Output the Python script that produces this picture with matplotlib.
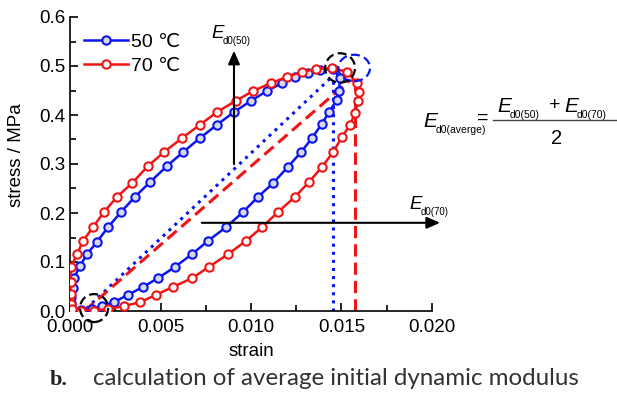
import matplotlib
matplotlib.use('Agg')
import matplotlib.pyplot as plt
from matplotlib.patches import Ellipse
from matplotlib.lines import Line2D
from matplotlib.ticker import MultipleLocator, FormatStrFormatter

# hysteresis loop, 50 C (strain, stress / MPa)
strain_50 = [0.0000, 0.00006, 0.00006, 0.00017, 0.00022, 0.00055, 0.00094, 0.00149,
             0.00210, 0.00282, 0.00359, 0.00442, 0.00536, 0.00624, 0.00718, 0.00812,
             0.00906, 0.01000, 0.01088, 0.01171, 0.01243, 0.01315, 0.01381, 0.01453,
             0.01492, 0.01486, 0.01475, 0.01431, 0.01392, 0.01337, 0.01276, 0.01204,
             0.01122, 0.01039, 0.00956, 0.00862, 0.00762, 0.00674, 0.00580, 0.00486,
             0.00403, 0.00320, 0.00243, 0.00177, 0.00120, 0.00060, 0.00010]
stress_50 = [0.002, 0.016, 0.029, 0.047, 0.067, 0.092, 0.116, 0.141,
             0.171, 0.202, 0.233, 0.263, 0.296, 0.324, 0.353, 0.380,
             0.406, 0.429, 0.449, 0.465, 0.478, 0.486, 0.492, 0.494,
             0.476, 0.449, 0.431, 0.406, 0.382, 0.353, 0.324, 0.294,
             0.261, 0.233, 0.202, 0.171, 0.143, 0.116, 0.090, 0.067,
             0.049, 0.033, 0.018, 0.010, 0.004, 0.002, 0.004]

# hysteresis loop, 70 C
strain_70 = [0.00003, 0.00003, 0.00003, 0.00006, 0.00039, 0.00072, 0.00127, 0.00188,
             0.00260, 0.00343, 0.00431, 0.00519, 0.00619, 0.00718, 0.00812, 0.00917,
             0.01011, 0.01110, 0.01199, 0.01282, 0.01359, 0.01448, 0.01530, 0.01586,
             0.01597, 0.01591, 0.01575, 0.01547, 0.01503, 0.01453, 0.01392, 0.01320,
             0.01243, 0.01149, 0.01061, 0.00972, 0.00873, 0.00768, 0.00674, 0.00569,
             0.00475, 0.00387, 0.00298, 0.00210, 0.00130, 0.00060, 0.00010]
stress_70 = [0.015, 0.035, 0.060, 0.090, 0.116, 0.143, 0.171, 0.202,
             0.233, 0.261, 0.296, 0.324, 0.353, 0.380, 0.406, 0.429,
             0.449, 0.465, 0.478, 0.488, 0.494, 0.496, 0.488, 0.465,
             0.447, 0.429, 0.404, 0.380, 0.355, 0.324, 0.294, 0.263,
             0.233, 0.202, 0.171, 0.143, 0.116, 0.090, 0.067, 0.049,
             0.033, 0.018, 0.010, 0.004, 0.001, 0.001, 0.004]

# secant lines for the initial dynamic modulus
secant_50 = ([0.0009, 0.01453], [0.005, 0.480])
secant_70 = ([0.0008, 0.01550], [0.000, 0.472])
peak_strain_50 = 0.01453
peak_strain_70 = 0.01575

plt.rcParams['font.family'] = ['Liberation Sans', 'DejaVu Sans']

fig = plt.figure(figsize=(6.17, 3.95), dpi=100)
ax = fig.add_axes([70 / 617, 84 / 395, 362 / 617, 294 / 395])

blue = '#0a14f0'
red = '#f01414'


def fx(px):
    return px / 617


def fy(py):
    return 1 - py / 395


def e_label(px, py, sub, size=15, subsize=7.5):
    # italic E with a small upright subscript, baseline at pixel (px, py)
    w = size * 0.62 * 100 / 72
    fig.text(fx(px), fy(py), 'E', fontsize=size, style='italic', ha='left', va='baseline')
    fig.text(fx(px + w), fy(py - 2), sub, fontsize=subsize, ha='left', va='top')


ax.plot(strain_50, stress_50, '-o', color=blue, lw=1.8, ms=6, mfc='#d8d8e8',
        mew=1.5, label='50 ℃', zorder=3)
ax.plot(strain_70, stress_70, '-o', color=red, lw=1.8, ms=6, mfc='white',
        mew=1.5, label='70 ℃', zorder=3)

ax.plot(*secant_50, ':', color=blue, lw=2.2)
ax.plot(*secant_70, '--', color=red, lw=2.2, dashes=(4, 2))
ax.plot([peak_strain_50, peak_strain_50], [0, 0.480], ':', color=blue, lw=2.2)
ax.plot([secant_70[0][1], peak_strain_70], [0.472, 0.472], '--', color=red, lw=2.2, dashes=(4, 2))
ax.plot([peak_strain_70, peak_strain_70], [0, 0.472], '--', color=red, lw=2.2, dashes=(4, 2))

# circles around origin and peak
ax.add_patch(Ellipse((0.01570, 0.496), 0.00175, 0.054, fill=False, ec=blue,
                     lw=1.6, ls=(0, (4, 2)), clip_on=False, zorder=4))
ax.add_patch(Ellipse((0.01492, 0.496), 0.00165, 0.060, fill=False, ec='black',
                     lw=1.6, ls=(0, (4, 2)), clip_on=False, zorder=5))
ax.add_patch(Ellipse((0.00133, 0.006), 0.00155, 0.057, fill=False, ec='black',
                     lw=1.6, ls=(0, (4, 2)), clip_on=False, zorder=5))

# arrows
ax.annotate('', xy=(0.00906, 0.537), xytext=(0.00906, 0.294), annotation_clip=False,
            arrowprops=dict(arrowstyle='-|>,head_length=0.8,head_width=0.35', color='black', lw=1.5))
ax.annotate('', xy=(0.0206, 0.180), xytext=(0.00713, 0.180), annotation_clip=False,
            arrowprops=dict(arrowstyle='-|>,head_length=0.8,head_width=0.35', color='black', lw=1.5))

ax.set_xlim(0, 0.020)
ax.set_ylim(0, 0.6)
ax.xaxis.set_major_locator(MultipleLocator(0.005))
ax.xaxis.set_minor_locator(MultipleLocator(0.0025))
ax.yaxis.set_major_locator(MultipleLocator(0.1))
ax.yaxis.set_minor_locator(MultipleLocator(0.05))
ax.xaxis.set_major_formatter(FormatStrFormatter('%.3f'))
ax.yaxis.set_major_formatter(FormatStrFormatter('%.1f'))
ax.tick_params(which='both', direction='in', labelsize=13.5, width=1.2)
ax.tick_params(which='major', length=6)
ax.tick_params(which='minor', length=4)
ax.tick_params(axis='x', pad=6)
ax.spines['top'].set_visible(False)
ax.spines['right'].set_visible(False)
for s in ('left', 'bottom'):
    ax.spines[s].set_linewidth(1.2)

ax.set_xlabel('strain', fontsize=13.5, labelpad=5)
ax.set_ylabel('stress / MPa', fontsize=13.5)
ax.yaxis.set_label_coords(-0.125, 0.53)

ax.legend(loc='upper left', bbox_to_anchor=(0.0, 0.99), frameon=False, fontsize=14,
          handlelength=2.3, handletextpad=0.15, labelspacing=0.3, borderaxespad=0.3)

# labels of the arrows
e_label(211, 38, 'd0(50)', size=13.5, subsize=7)
e_label(409, 209, 'd0(70)', size=13.5, subsize=7)

# formula
e_label(423, 127, 'd0(averge)', size=15, subsize=7.5)
fig.text(fx(477), fy(123), '=', fontsize=14, ha='left', va='baseline')
e_label(497, 112, 'd0(50)', size=15, subsize=7.5)
fig.text(fx(549), fy(110), '+', fontsize=14, ha='left', va='baseline')
e_label(564, 112, 'd0(70)', size=15, subsize=7.5)
fig.text(fx(557), fy(144), '2', fontsize=14.5, ha='center', va='baseline')
fig.add_artist(Line2D([fx(493), fx(616)], [fy(120), fy(120)], color='#444444', lw=1.0))

# caption
fig.text(fx(50), fy(385), 'b.', fontsize=16, fontweight='bold',
         family='Liberation Serif', color='#222222', ha='left', va='baseline')
fig.text(fx(93), fy(385), 'calculation of average initial dynamic modulus',
         fontsize=17.4, family='Lato', color='#333333', ha='left', va='baseline')

fig.savefig('out.png', dpi=100)
